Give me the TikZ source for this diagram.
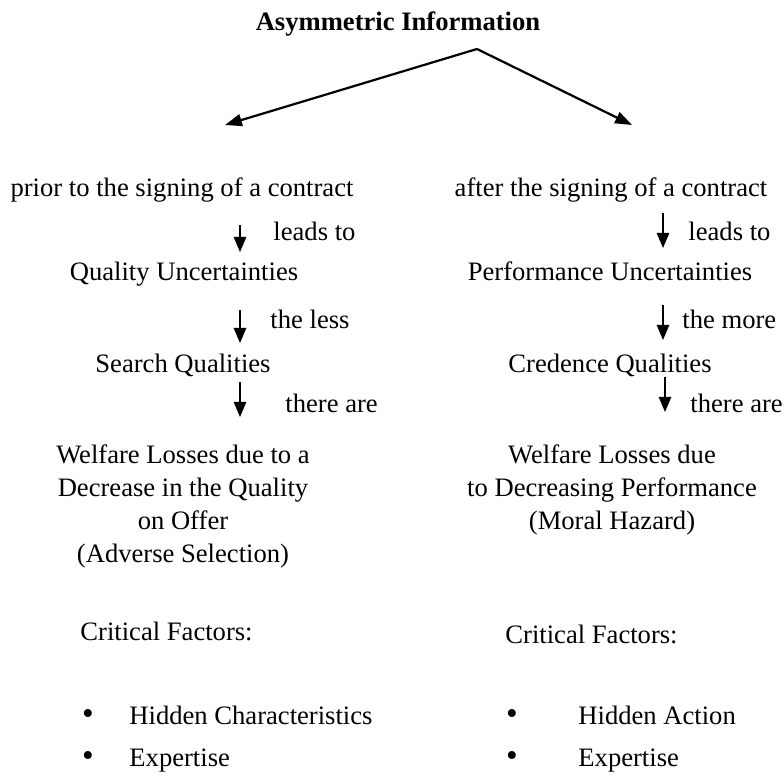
\documentclass[tikz,border=0pt]{standalone}
\usepackage{fontspec}
\setmainfont{Liberation Serif}
\usetikzlibrary{arrows.meta, positioning}

\begin{document}
\begin{tikzpicture}[x=0.451pt, y=-0.451pt, font=\fontsize{12}{14.9}\selectfont,
  every node/.style={inner sep=0pt},
  txt/.style={anchor=base},
  lbl/.style={anchor=base west},
  bul/.style={anchor=base, font=\fontsize{15}{15}\selectfont},
  down/.style={-{Triangle[length=6.8pt,width=5.6pt]}, line width=0.7pt},
  split/.style={-{Triangle[length=7.6pt,width=5.4pt]}, line width=1pt}]

  \useasboundingbox (0,0) rectangle (784,778);

  % title and the two branches
  \node[txt, font=\fontsize{12}{14.9}\selectfont\bfseries] (title) at (398,30) {Asymmetric Information};
  \coordinate (apex) at (477,49);
  \coordinate (lend) at (225,125);
  \coordinate (rend) at (632,125);
  \draw[split] (apex) -- (lend);
  \draw[split] (apex) -- (rend);

  % left branch
  \node[txt] (prior) at (182,196) {prior to the signing of a contract};
  \coordinate (la1) at (240,225); \coordinate (lb1) at (240,252);
  \draw[down] (la1) -- (lb1);
  \node[lbl] (lleads) at (273,240) {leads to};
  \node[txt] (quality) at (184,281) {Quality Uncertainties};
  \coordinate (la2) at (240,310); \coordinate (lb2) at (240,343);
  \draw[down] (la2) -- (lb2);
  \node[lbl] (lless) at (270,328) {the less};
  \node[txt] (search) at (183,372) {Search Qualities};
  \coordinate (la3) at (240,382); \coordinate (lb3) at (240,417);
  \draw[down] (la3) -- (lb3);
  \node[lbl] (lthere) at (285,412) {there are};
  \node[align=center, anchor=north] (adverse) at (183,444)
    {Welfare Losses due to a\\Decrease in the Quality\\on Offer\\(Adverse Selection)};

  \node[lbl] (lcrit) at (80,640) {Critical Factors:};
  \node[bul] (lbul1) at (88,724) {•};
  \node[lbl] (lhid) at (129,724) {Hidden Characteristics};
  \node[bul] (lbul2) at (88,766) {•};
  \node[lbl] (lexp) at (129,766) {Expertise};

  % right branch
  \node[txt] (after) at (611,196) {after the signing of a contract};
  \coordinate (ra1) at (663,213); \coordinate (rb1) at (663,248);
  \draw[down] (ra1) -- (rb1);
  \node[lbl] (rleads) at (688,240) {leads to};
  \node[txt] (perf) at (610,281) {Performance Uncertainties};
  \coordinate (ra2) at (663,305); \coordinate (rb2) at (663,340);
  \draw[down] (ra2) -- (rb2);
  \node[lbl] (rmore) at (682,328) {the more};
  \node[txt] (credence) at (610,372) {Credence Qualities};
  \coordinate (ra3) at (665,377); \coordinate (rb3) at (665,412);
  \draw[down] (ra3) -- (rb3);
  \node[lbl] (rthere) at (690,412) {there are};
  \node[align=center, anchor=north] (moral) at (612,444)
    {Welfare Losses due\\to Decreasing Performance\\(Moral Hazard)};

  \node[lbl] (rcrit) at (505,643) {Critical Factors:};
  \node[bul] (rbul1) at (512,724) {•};
  \node[lbl] (rhid) at (578,724) {Hidden Action};
  \node[bul] (rbul2) at (512,766) {•};
  \node[lbl] (rexp) at (578,766) {Expertise};
\end{tikzpicture}
\end{document}
